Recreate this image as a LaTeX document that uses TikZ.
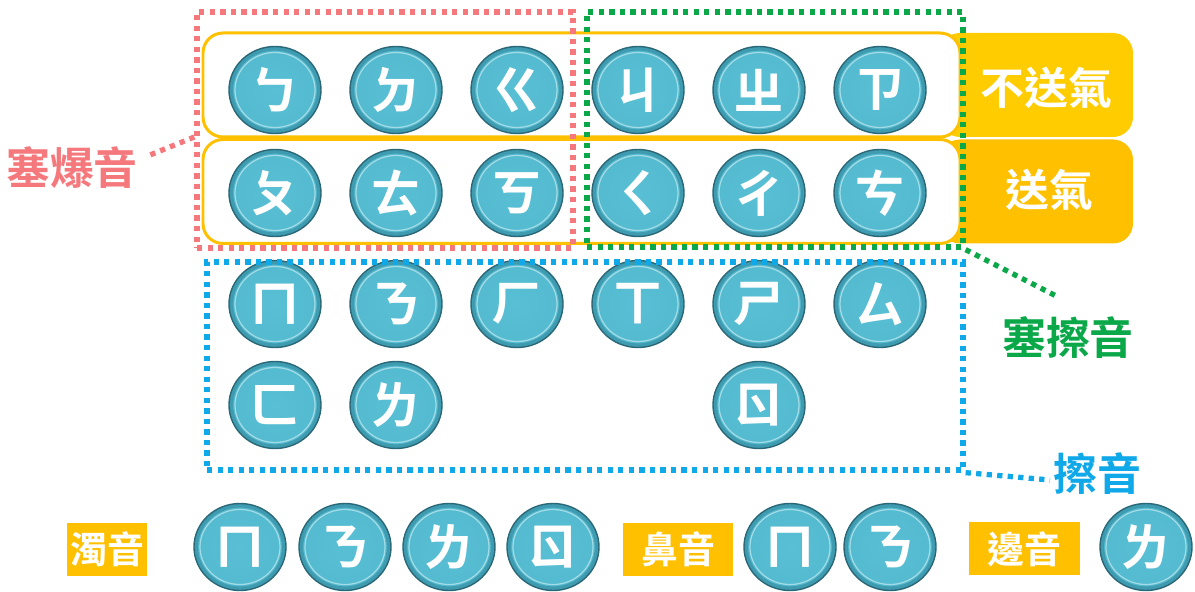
\documentclass[tikz,border=0pt]{standalone}
\usepackage{fontspec}
\newfontfamily\cjk{Noto Sans CJK TC}[BoldFont={Noto Sans CJK TC Bold}]
\usetikzlibrary{shapes.geometric, positioning}
\definecolor{keyface}{HTML}{58BFD4}
\definecolor{keyedge}{HTML}{3E9BB0}
\definecolor{keyrim}{HTML}{2A6878}
\definecolor{framey}{HTML}{FFC000}
\definecolor{tabtop}{HTML}{FFCC00}
\definecolor{tabbot}{HTML}{FFC000}
\definecolor{plosred}{HTML}{F4787C}
\definecolor{affgreen}{HTML}{0BA84A}
\definecolor{fricblue}{HTML}{0FA8E8}
\tikzstyle{key} = [ellipse, on grid, minimum width=1.84cm, minimum height=1.74cm, inner sep=0pt, draw=keyrim, line width=0.8pt, inner color=keyface, outer color=keyface!85!keyedge, text=white, font=\cjk\bfseries\fontsize{29}{29}\selectfont, path picture={\draw[keyedge, line width=2.4pt] (path picture bounding box.center) ellipse (0.88cm and 0.83cm); \draw[keyface!55!white, line width=0.7pt] (path picture bounding box.center) ellipse (0.80cm and 0.75cm);}]
\tikzstyle{frame} = [draw=framey, line width=1.7pt, fill=white, rounded corners=0.4cm, minimum width=15.14cm, minimum height=2.08cm]
\tikzstyle{tab} = [rounded corners=0.4cm, minimum width=3.86cm, minimum height=2.08cm]
\tikzstyle{tabtext} = [text=white, font=\cjk\bfseries\fontsize{25}{25}\selectfont]
\tikzstyle{group} = [line width=3pt, dash pattern=on 3pt off 3pt]
\tikzstyle{grouplabel} = [font=\cjk\bfseries\fontsize{25}{25}\selectfont]
\tikzstyle{tag} = [fill=framey, text=white, inner sep=0pt, minimum height=1.06cm, font=\cjk\bfseries\fontsize{21}{21}\selectfont]

\begin{document}
\begin{tikzpicture}
    \useasboundingbox (0,0) rectangle (23.9,11.84);

    % Tabs and frames
    \node[tab, fill=tabtop] (tabA) at (20.73,10.14) {};
    \node[tab, fill=tabbot] (tabB) at (20.73,8.01) {};
    \node[frame] (rowA) at (11.63,10.14) {};
    \node[frame] (rowB) at (11.63,8.01) {};
    \node[tabtext] (unasp) at (20.93,10.08) {不送氣};
    \node[tabtext] (asp) at (20.98,8.04) {送氣};

    % Keys
    \node[key] (b) at (5.50,10.04) {ㄅ};
    \node[key, right=2.42cm of b] (d) {ㄉ};
    \node[key, right=2.42cm of d] (g) {ㄍ};
    \node[key, right=2.42cm of g] (j) {ㄐ};
    \node[key, right=2.42cm of j] (zh) {ㄓ};
    \node[key, right=2.42cm of zh] (z) {ㄗ};
    \node[key, below=2.06cm of b] (p) {ㄆ};
    \node[key, right=2.42cm of p] (t) {ㄊ};
    \node[key, right=2.42cm of t] (k) {ㄎ};
    \node[key, right=2.42cm of k] (q) {ㄑ};
    \node[key, right=2.42cm of q] (ch) {ㄔ};
    \node[key, right=2.42cm of ch] (c) {ㄘ};
    \node[key, below=2.22cm of p] (m) {ㄇ};
    \node[key, right=2.42cm of m] (n) {ㄋ};
    \node[key, right=2.42cm of n] (h) {ㄏ};
    \node[key, right=2.42cm of h] (x) {ㄒ};
    \node[key, right=2.42cm of x] (sh) {ㄕ};
    \node[key, right=2.42cm of sh] (s) {ㄙ};
    \node[key, below=2.02cm of m] (f) {ㄈ};
    \node[key, right=2.42cm of f] (l) {ㄌ};
    \node[key, below=2.02cm of sh] (r) {ㄖ};

    % Bottom row
    \node[tag, minimum width=1.60cm] (voiced) at (2.14,0.85) {濁音};
    \node[key] (vm) at (4.80,0.90) {ㄇ};
    \node[key, right=2.10cm of vm] (vn) {ㄋ};
    \node[key, right=2.08cm of vn] (vl) {ㄌ};
    \node[key, right=2.08cm of vl] (vr) {ㄖ};
    \node[tag, minimum width=2.20cm] (nasal) at (13.56,0.85) {鼻音};
    \node[key] (nm) at (15.80,0.90) {ㄇ};
    \node[key, right=2.00cm of nm] (nn) {ㄋ};
    \node[tag, minimum width=2.22cm] (lateral) at (20.49,0.86) {邊音};
    \node[key] (ll) at (22.92,0.90) {ㄌ};

    % Groups
    \node[group, draw=fricblue, minimum width=15.12cm, minimum height=4.16cm] (fricbox) at (11.70,4.52) {};
    \node[group, draw=plosred, minimum width=7.52cm, minimum height=4.72cm] (plosbox) at (7.70,9.24) {};
    \node[group, draw=affgreen, minimum width=7.52cm, minimum height=4.70cm] (affbox) at (15.50,9.25) {};
    \node[grouplabel, text=plosred] (plosive) at (1.44,8.48) {塞爆音};
    \node[grouplabel, text=affgreen] (affricate) at (21.36,5.08) {塞擦音};
    \node[grouplabel, text=fricblue] (fricative) at (21.94,2.36) {擦音};
    \coordinate (plosend) at (3.00,8.74);
    \coordinate (affend) at (21.16,5.90);
    \coordinate (fricend) at (21.00,2.24);

    % Leaders
    \draw[group, plosred] ([yshift=-0.14cm]plosbox.west) -- (plosend);
    \draw[group, affgreen] (affbox.south east) -- (affend);
    \draw[group, fricblue] (fricbox.south east) -- (fricend);
\end{tikzpicture}
\end{document}
